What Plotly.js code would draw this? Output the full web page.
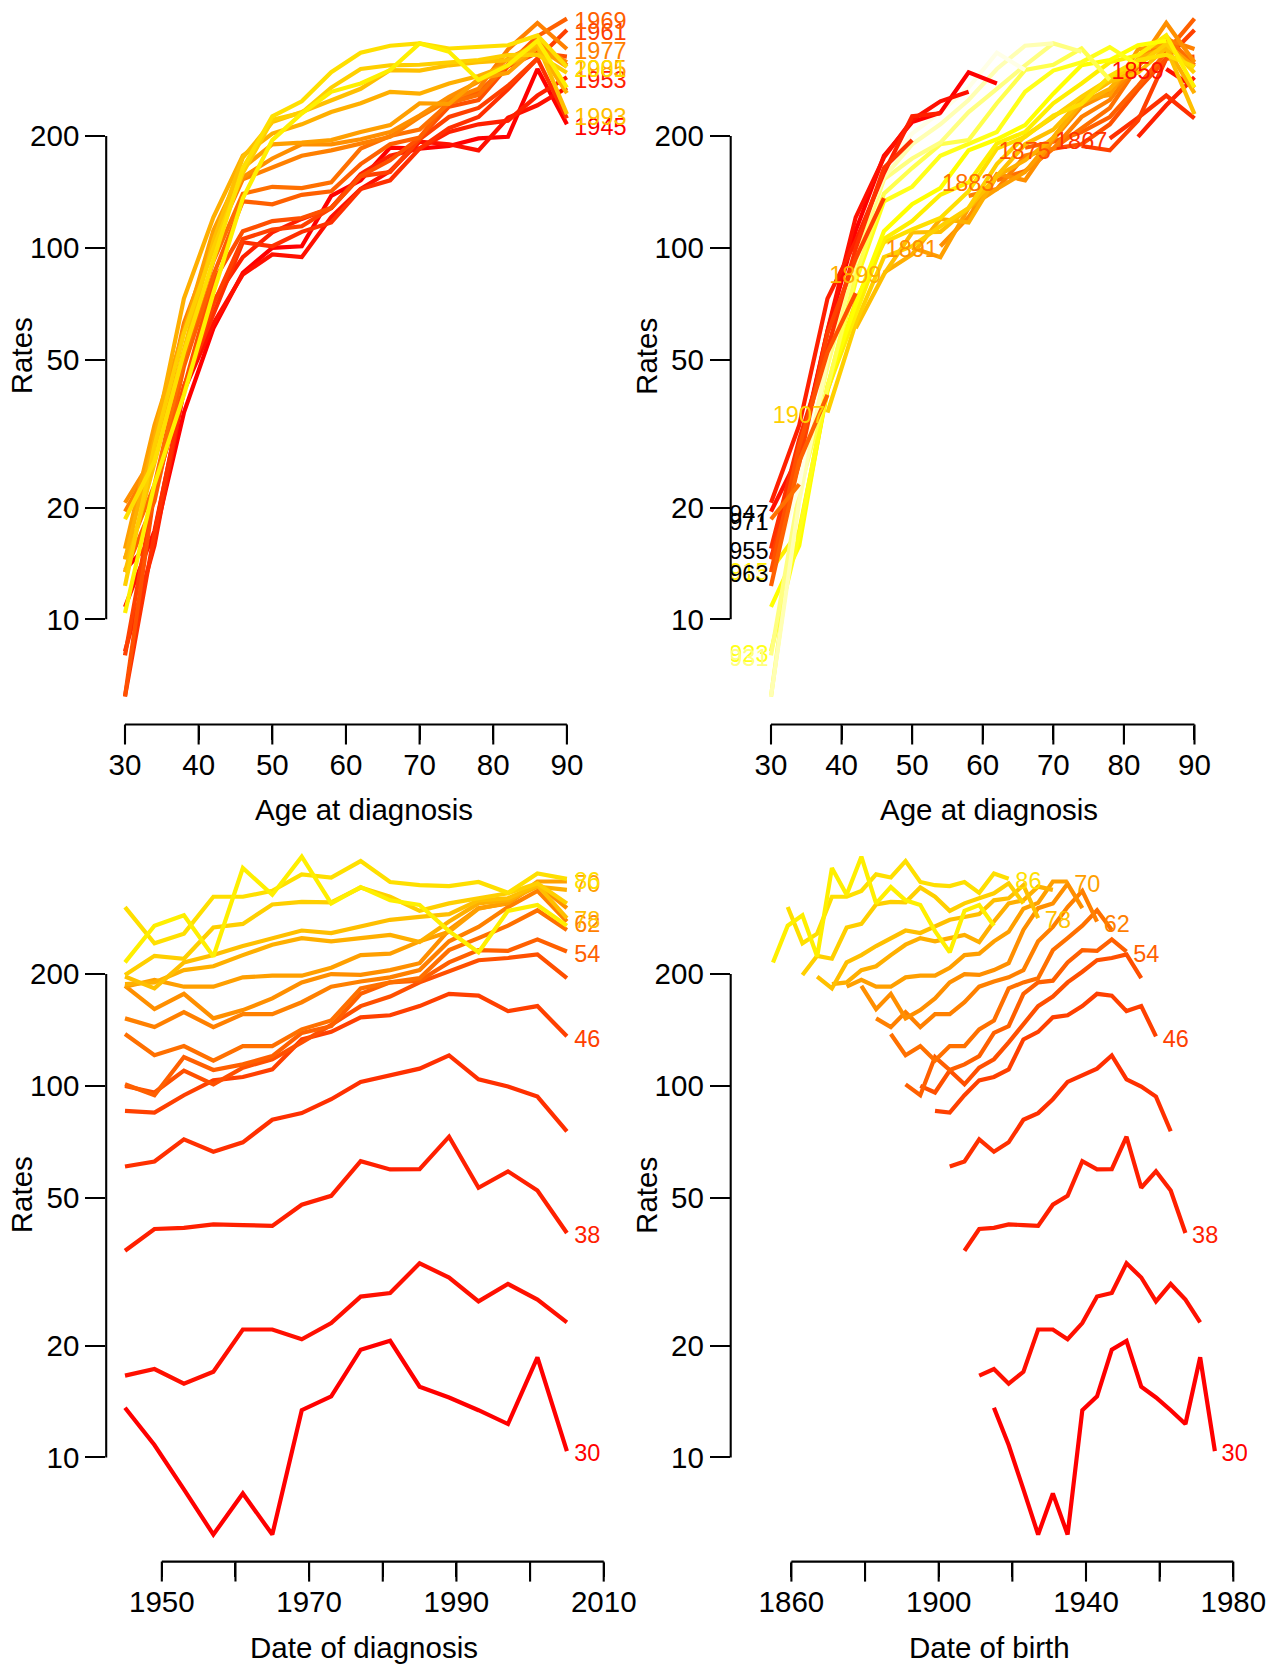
<!DOCTYPE html>
<html>
<head>
<meta charset="utf-8">
<script src="https://cdn.plot.ly/plotly-3.0.1.min.js"></script>
<style>
  html, body { margin: 0; padding: 0; background: #ffffff; }
  #chart { width: 1279px; height: 1666px; }
</style>
</head>
<body>
<div id="chart"></div>
<script>
// Age groups (rows) and periods of diagnosis (columns)
const ages = [30, 34, 38, 42, 46, 50, 54, 58, 62, 66, 70, 74, 78, 82, 86, 90];
const periods = [1945, 1949, 1953, 1957, 1961, 1965, 1969, 1973, 1977, 1981, 1985, 1989, 1993, 1997, 2001, 2005];

// Rates per 100,000 person-years, one array per age group, by period
const rateAge30 = [13.6, 10.8, 8.2, 6.2, 8.0, 6.2, 13.4, 14.6, 19.5, 20.6, 15.5, 14.5, 13.4, 12.3, 18.6, 10.4];
const rateAge34 = [16.6, 17.3, 15.8, 17.0, 22.1, 22.1, 20.8, 23.0, 27.1, 27.7, 33.3, 30.5, 26.3, 29.3, 26.6, 23.1];
const rateAge38 = [36.0, 41.2, 41.5, 42.4, 42.2, 42.0, 47.9, 50.6, 62.7, 59.6, 59.7, 73.0, 53.2, 58.9, 52.3, 40.2];
const rateAge42 = [60.7, 62.6, 71.8, 66.5, 70.5, 81.1, 84.5, 92.1, 102.5, 106.8, 111.3, 120.8, 104.2, 99.6, 93.6, 75.5];
const rateAge46 = [85.7, 84.8, 94.4, 103.5, 105.7, 110.8, 133.4, 139.8, 153, 155, 164, 177, 175, 159, 164, 136];
const rateAge50 = [100, 96, 110, 101, 112, 118, 131, 146, 164, 174, 190, 203, 218, 221, 226, 195];
const rateAge54 = [101, 94.4, 119.6, 110.4, 114.3, 120.3, 138.9, 144.8, 177, 190, 192, 215, 232, 231, 248, 230];
const rateAge58 = [138, 121, 128, 117, 128, 128, 142, 150, 183, 190, 195, 232, 250, 270, 297, 263];
const rateAge62 = [152, 144, 158, 144, 156, 156, 168, 185, 191, 196, 205, 245, 268, 303, 335, 277];
const rateAge66 = [186, 161, 177, 152, 160, 172, 190, 200, 199, 205, 214, 263, 301, 310, 350, 301];
const rateAge70 = [185, 193, 185, 185, 196, 198, 198, 208, 225, 227, 245, 260, 300, 311, 355, 355];
const rateAge74 = [188, 190, 205, 210, 225, 240, 250, 245, 250, 255, 244, 277, 310, 316, 344, 337];
const rateAge78 = [197, 183, 215, 225, 238, 250, 262, 258, 268, 280, 285, 290, 316, 320, 347, 283];
const rateAge82 = [199, 224, 220, 267, 273, 308, 313, 312, 342, 323, 296, 310, 320, 330, 351, 310];
const rateAge86 = [303, 242, 257, 323, 323, 335, 371, 364, 403, 354, 347, 345, 354, 331, 373, 361];
const rateAge90 = [215, 270, 288, 223, 386, 327, 414, 310, 343, 316, 307, 261, 229, 296, 307, 270];

const rateRows = [rateAge30, rateAge34, rateAge38, rateAge42, rateAge46, rateAge50, rateAge54, rateAge58,
                  rateAge62, rateAge66, rateAge70, rateAge74, rateAge78, rateAge82, rateAge86, rateAge90];

// Axis ticks
const yTickVals = [10, 20, 50, 100, 200];
const yTickText = ['10', '20', '50', '100', '200'];
const ageTickVals = [30, 40, 50, 60, 70, 80, 90];
const ageTickText = ['30', '40', '50', '60', '70', '80', '90'];
const perTickVals = [1950, 1960, 1970, 1980, 1990, 2000, 2010];
const perTickText = ['1950', '', '1970', '', '1990', '', '2010'];
const cohTickVals = [1860, 1880, 1900, 1920, 1940, 1960, 1980];
const cohTickText = ['1860', '', '1900', '', '1940', '', '1980'];

// Which lines carry a label (every second one)
const ageLabelIdx = [0, 2, 4, 6, 8, 10, 12, 14];
const perLabelIdx = [0, 2, 4, 6, 8, 10, 12, 14];
const cohLabelIdx = [1, 3, 5, 7, 9, 11, 13, 15, 17, 19, 21, 23, 25, 27, 29];

// ---------- colours: heat palette (red -> yellow -> pale yellow) ----------
function hsvToHex(h, s, v) {
  const i = Math.floor(h * 6), f = h * 6 - i;
  const p = v * (1 - s), q = v * (1 - s * f), t = v * (1 - s * (1 - f));
  const sets = [[v, t, p], [q, v, p], [p, v, t], [p, q, v], [t, p, v], [v, p, q]];
  const rgb = sets[i % 6];
  return '#' + rgb.map(c => Math.floor(255 * c + 0.5).toString(16).padStart(2, '0')).join('').toUpperCase();
}
function heatColors(n) {
  const j = Math.floor(n / 4), i = n - j, out = [];
  for (let k = 0; k < i; k++) out.push(hsvToHex(i > 1 ? (k / (i - 1)) / 6 : 0, 1, 1));
  const s0 = 1 - 1 / (2 * j), s1 = 1 / (2 * j);
  for (let k = 0; k < j; k++) out.push(hsvToHex(1 / 6, j > 1 ? s0 + k * (s1 - s0) / (j - 1) : s0, 1));
  return out;
}
const pal = heatColors(22);
const lineColor = k => pal[k % pal.length];          // recycled for lines
const labelColor = k => (k < pal.length ? pal[k] : '#000000'); // labels past the palette fall back to black

// ---------- geometry (pixels in a 1279 x 1666 page) ----------
const W = 1279, H = 1666;
const FONT = '"Liberation Sans", Arial, Helvetica, sans-serif';
const TICK_FS = 29.5, LAB_FS = 23.5;
const LW = 4.2, AXW = 2.1, TICKLEN = 20;

// panel boxes
const leftX0 = 106.2, leftX1 = 628;
const rightX0 = 730.7, rightX1 = 1247;
const topY0 = 0, topY1 = 724.5;         // pixel rows (from top)
const botY0 = 838.1, botY1 = 1561.6;

const domX = (a, b) => [a / W, b / W];
const domY = (a, b) => [(H - b) / H, (H - a) / H];

// x ranges: value at a reference pixel and pixels per unit
function xRange(px0, px1, refPx, refVal, k) {
  return [refVal - (refPx - px0) / k, refVal + (px1 - refPx) / k];
}
const kLeft = 7.365, kRightAge = 7.058, kCoh = 3.6825;
const rangeTL = xRange(leftX0, leftX1, 125.0, 30, kLeft);
const rangeBL = xRange(leftX0, leftX1, 125.0, 1945, kLeft);
const rangeTR = xRange(rightX0, rightX1, 771.0, 30, kRightAge);
const rangeBR = xRange(rightX0, rightX1, 791.4, 1860, kCoh);

// y: 200 sits 136 px below the panel top, 371.5 px per decade
const PX_DEC = 371.5;
function yRange(py0, py1, p200) {
  const lg200 = Math.log10(200);
  return [lg200 - (py1 - p200) / PX_DEC, lg200 + (p200 - py0) / PX_DEC];
}
const rangeYTop = yRange(topY0, topY1, 136.0);
const rangeYBot = yRange(botY0, botY1, 974.1);

// line-end labels sit a few pixels below the line end (vertical centring of the glyphs)
const LABEL_DROP = Math.pow(10, -4.5 / PX_DEC);

// ---------- traces ----------
const traces = [];
const nA = ages.length, nP = periods.length;

// Top-left: rates by age, one line per period
for (let j = 0; j < nP; j++) {
  traces.push({
    type: 'scatter', mode: 'lines', xaxis: 'x', yaxis: 'y',
    x: ages, y: rateRows.map(r => r[j]),
    line: { color: lineColor(j), width: LW }, hoverinfo: 'skip', showlegend: false
  });
}
traces.push({
  type: 'scatter', mode: 'text', xaxis: 'x', yaxis: 'y', cliponaxis: true,
  x: perLabelIdx.map(() => ages[nA - 1] + 7.4 / kLeft),
  y: perLabelIdx.map(j => rateRows[nA - 1][j] * LABEL_DROP),
  text: perLabelIdx.map(j => String(periods[j])),
  textposition: 'middle right',
  textfont: { family: FONT, size: LAB_FS, color: perLabelIdx.map(labelColor) },
  hoverinfo: 'skip', showlegend: false
});

// Bottom-left: rates by period, one line per age group
for (let i = 0; i < nA; i++) {
  traces.push({
    type: 'scatter', mode: 'lines', xaxis: 'x3', yaxis: 'y3',
    x: periods, y: rateRows[i],
    line: { color: lineColor(i), width: LW }, hoverinfo: 'skip', showlegend: false
  });
}
traces.push({
  type: 'scatter', mode: 'text', xaxis: 'x3', yaxis: 'y3', cliponaxis: true,
  x: ageLabelIdx.map(() => periods[nP - 1] + 7.4 / kLeft),
  y: ageLabelIdx.map(i => rateRows[i][nP - 1] * LABEL_DROP),
  text: ageLabelIdx.map(i => String(ages[i])),
  textposition: 'middle right',
  textfont: { family: FONT, size: LAB_FS, color: ageLabelIdx.map(labelColor) },
  hoverinfo: 'skip', showlegend: false
});

// Birth cohorts
const cohorts = [];
for (let c = periods[0] - ages[nA - 1]; c <= periods[nP - 1] - ages[0]; c += 4) cohorts.push(c);

// Top-right: rates by age, one line per birth cohort
const cohFirst = [];
cohorts.forEach((c, k) => {
  const xs = [], ys = [];
  for (let i = 0; i < nA; i++) {
    const j = periods.indexOf(c + ages[i]);
    if (j >= 0) { xs.push(ages[i]); ys.push(rateRows[i][j]); }
  }
  cohFirst.push({ x: xs[0], y: ys[0] });
  traces.push({
    type: 'scatter', mode: 'lines', xaxis: 'x2', yaxis: 'y2',
    x: xs, y: ys,
    line: { color: lineColor(k), width: LW }, hoverinfo: 'skip', showlegend: false
  });
});
traces.push({
  type: 'scatter', mode: 'text', xaxis: 'x2', yaxis: 'y2', cliponaxis: true,
  x: cohLabelIdx.map(k => cohFirst[k].x - 2.5 / kRightAge),
  y: cohLabelIdx.map(k => cohFirst[k].y * LABEL_DROP),
  text: cohLabelIdx.map(k => String(cohorts[k])),
  textposition: 'middle left',
  textfont: { family: FONT, size: LAB_FS, color: cohLabelIdx.map(labelColor) },
  hoverinfo: 'skip', showlegend: false
});

// Bottom-right: rates by date of birth, one line per age group
for (let i = 0; i < nA; i++) {
  traces.push({
    type: 'scatter', mode: 'lines', xaxis: 'x4', yaxis: 'y4',
    x: periods.map(p => p - ages[i]), y: rateRows[i],
    line: { color: lineColor(i), width: LW }, hoverinfo: 'skip', showlegend: false
  });
}
traces.push({
  type: 'scatter', mode: 'text', xaxis: 'x4', yaxis: 'y4', cliponaxis: true,
  x: ageLabelIdx.map(i => periods[nP - 1] - ages[i] + 6.7 / kCoh),
  y: ageLabelIdx.map(i => rateRows[i][nP - 1] * LABEL_DROP),
  text: ageLabelIdx.map(i => String(ages[i])),
  textposition: 'middle right',
  textfont: { family: FONT, size: LAB_FS, color: ageLabelIdx.map(labelColor) },
  hoverinfo: 'skip', showlegend: false
});

// ---------- axes ----------
// x axes: short native ticks set the label position; full-length tick marks are shapes below
function xAxis(dom, range, anchor, vals, text) {
  return {
    domain: dom, range: range, anchor: anchor, type: 'linear',
    showgrid: false, zeroline: false, showline: false,
    tickmode: 'array', tickvals: vals, ticktext: text,
    ticks: 'outside', ticklen: 14, tickwidth: AXW, tickcolor: '#000',
    ticklabelstandoff: 0,
    tickfont: { family: FONT, size: TICK_FS, color: '#000' }
  };
}
function yAxis(dom, range, anchor) {
  return {
    domain: dom, range: range, anchor: anchor, type: 'log',
    showgrid: false, zeroline: false, showline: false,
    tickmode: 'array', tickvals: yTickVals, ticktext: yTickText,
    ticks: 'outside', ticklen: TICKLEN, tickwidth: AXW, tickcolor: '#000',
    ticklabelstandoff: -5.6,
    tickfont: { family: FONT, size: TICK_FS, color: '#000' }
  };
}

// axis lines that span only the tick range, plus the x tick marks
function axisLines(xr, yr, xTicks) {
  const out = [
    { type: 'line', xref: xr, yref: yr + ' domain', x0: xTicks[0], x1: xTicks[xTicks.length - 1], y0: 0, y1: 0,
      line: { color: '#000', width: AXW } },
    { type: 'line', xref: xr + ' domain', yref: yr, x0: 0, x1: 0,
      y0: yTickVals[0], y1: yTickVals[yTickVals.length - 1],
      line: { color: '#000', width: AXW } }
  ];
  xTicks.forEach(v => out.push({
    type: 'line', xref: xr, yref: yr + ' domain', ysizemode: 'pixel', yanchor: 0,
    x0: v, x1: v, y0: 0, y1: -TICKLEN,
    line: { color: '#000', width: AXW }
  }));
  return out;
}

function title(text, xPx, yPx, rotate) {
  return {
    text: text, xref: 'paper', yref: 'paper', x: xPx / W, y: (H - yPx) / H,
    xanchor: 'center', yanchor: 'middle', showarrow: false, textangle: rotate ? -90 : 0,
    font: { family: FONT, size: TICK_FS, color: '#000' }
  };
}

const layout = {
  width: W, height: H, autosize: false,
  margin: { l: 0, r: 0, t: 0, b: 0, pad: 0 },
  paper_bgcolor: '#ffffff', plot_bgcolor: '#ffffff',
  showlegend: false,
  xaxis:  xAxis(domX(leftX0, leftX1), rangeTL, 'y', ageTickVals, ageTickText),
  yaxis:  yAxis(domY(topY0, topY1), rangeYTop, 'x'),
  xaxis2: xAxis(domX(rightX0, rightX1), rangeTR, 'y2', ageTickVals, ageTickText),
  yaxis2: yAxis(domY(topY0, topY1), rangeYTop, 'x2'),
  xaxis3: xAxis(domX(leftX0, leftX1), rangeBL, 'y3', perTickVals, perTickText),
  yaxis3: yAxis(domY(botY0, botY1), rangeYBot, 'x3'),
  xaxis4: xAxis(domX(rightX0, rightX1), rangeBR, 'y4', cohTickVals, cohTickText),
  yaxis4: yAxis(domY(botY0, botY1), rangeYBot, 'x4'),
  shapes: [].concat(
    axisLines('x', 'y', ageTickVals),
    axisLines('x2', 'y2', ageTickVals),
    axisLines('x3', 'y3', perTickVals),
    axisLines('x4', 'y4', cohTickVals)
  ),
  annotations: [
    title('Age at diagnosis', 364.4, 809.5, false),
    title('Age at diagnosis', 989, 809.5, false),
    title('Date of diagnosis', 364.4, 1647, false),
    title('Date of birth', 989, 1647, false),
    title('Rates', 21.2, 356, true),
    title('Rates', 645.9, 356, true),
    title('Rates', 21.2, 1195, true),
    title('Rates', 645.9, 1195, true)
  ]
};

Plotly.newPlot('chart', traces, layout, { displayModeBar: false, responsive: false });
</script>
</body>
</html>
